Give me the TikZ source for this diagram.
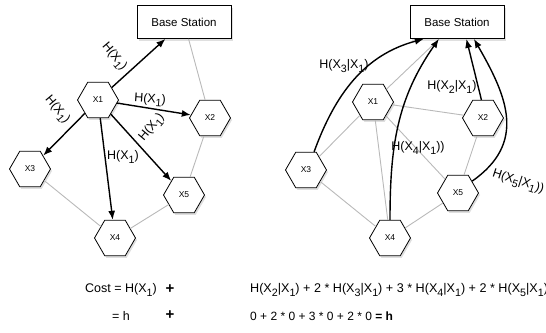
\documentclass[tikz,border=0pt]{standalone}
\usepackage{fontspec}
\setmainfont{Liberation Sans}
\usepackage{tikz}
\usetikzlibrary{shapes.geometric,arrows.meta,shadows}
\newcommand{\sbs}[1]{\raisebox{-0.55ex}{\scalebox{0.85}{#1}}}
\tikzset{
  hexa/.style={draw, line width=0.8pt, fill=white, regular polygon, regular polygon sides=6,
    minimum size=41pt, inner sep=0pt, font=\fontsize{8.5}{10}\selectfont,
    drop shadow={opacity=0.25, shadow xshift=1.5pt, shadow yshift=-2pt}},
  base/.style={draw, line width=0.8pt, fill=white, minimum width=94pt, minimum height=33pt,
    font=\fontsize{11.5}{13}\selectfont,
    drop shadow={opacity=0.25, shadow xshift=1.5pt, shadow yshift=-2pt}},
  link/.style={gray!55, line width=0.9pt},
  send/.style={line width=1.4pt, -{Latex[length=9pt,width=7pt]}},
  lbl/.style={inner sep=0pt, font=\fontsize{12.5}{14}\selectfont},
  plus/.style={inner sep=0pt, font=\fontsize{15}{16}\selectfont\bfseries},
}
\begin{document}
\begin{tikzpicture}[x=1pt, y=-1pt]
    \useasboundingbox (0,0) rectangle (546,332);
    % left: X1 sends H(X1) to everyone
    \node[base] (BS) at (184,22) {Base Station};
    \node[hexa] (X1) at (98,100) {X1};
    \node[hexa] (X2) at (210,118) {X2};
    \node[hexa] (X3) at (30,169) {X3};
    \node[hexa] (X5) at (184,195) {X5};
    \node[hexa] (X4) at (115,238) {X4};
    \draw[link] (BS) -- (X2);
    \draw[link] (X2) -- (X5);
    \draw[link] (X3) -- (X4);
    \draw[link] (X4) -- (X5);
    \draw[send] (X1) -- (BS);
    \draw[send] (X1) -- (X2);
    \draw[send] (X1) -- (X3);
    \draw[send] (X1) -- (X4);
    \draw[send] (X1) -- (X5);
    \node[lbl, rotate=-50] (h1) at (114,57) {H(X\sbs{1})};
    \node[lbl, rotate=-50] (h3) at (57,110) {H(X\sbs{1})};
    \node[lbl, rotate=-4] (h2) at (150,100) {H(X\sbs{1})};
    \node[lbl, rotate=50] (h5) at (152,128) {H(X\sbs{1})};
    \node[lbl] (h4) at (123,157) {H(X\sbs{1})};
    % right: conditional coding
    \node[base] (rBS) at (457,22) {Base Station};
    \node[hexa] (rX1) at (373,102) {X1};
    \node[hexa] (rX2) at (483,118) {X2};
    \node[hexa] (rX3) at (306,170) {X3};
    \node[hexa] (rX5) at (458,193) {X5};
    \node[hexa] (rX4) at (390,238) {X4};
    \draw[link] (rBS) -- (rX1);
    \draw[link] (rX1) -- (rX2);
    \draw[link] (rX1) -- (rX3);
    \draw[link] (rX1) -- (rX4);
    \draw[link] (rX1) -- (rX5);
    \draw[link] (rX2) -- (rX5);
    \draw[link] (rX3) -- (rX4);
    \draw[link] (rX4) -- (rX5);
    \draw[send] (rX3.66) to[out=70, in=195] (rBS.207);
    \draw[send] (rX4.north) to[out=90, in=235] (rBS.223);
    \draw[send] (rX2.95) -- (rBS.299);
    \draw[send] (rX5.40) to[out=35, in=-60, looseness=1.2] (rBS.315);
    \node[lbl] (c3) at (344,66) {H(X\sbs{3}|X\sbs{1})};
    \node[lbl] (c2) at (452,87) {H(X\sbs{2}|X\sbs{1})};
    \node[lbl] (c4) at (418,148) {H(X\sbs{4}|X\sbs{1}))};
    \node[lbl, rotate=-18] (c5) at (518,182) {H(X\sbs{5}|X\sbs{1}))};
    % cost
    \node[lbl, anchor=west] (cost) at (85,290) {Cost = H(X\sbs{1})};
    \node[plus] (p1) at (170,289) {+};
    \node[lbl, anchor=west, font=\fontsize{12.6}{15}\selectfont] (sum) at (250,290) {H(X\sbs{2}|X\sbs{1}) + 2 * H(X\sbs{3}|X\sbs{1}) + 3 * H(X\sbs{4}|X\sbs{1}) + 2 * H(X\sbs{5}|X\sbs{1})};
    \node[lbl, anchor=west] (eqh) at (112,316) {= h};
    \node[plus] (p2) at (170,315) {+};
    \node[lbl, anchor=west, font=\fontsize{12}{14}\selectfont] (zero) at (250,316) {0 + 2 * 0 + 3 * 0 + 2 * 0 \textbf{= h}};
\end{tikzpicture}
\end{document}
